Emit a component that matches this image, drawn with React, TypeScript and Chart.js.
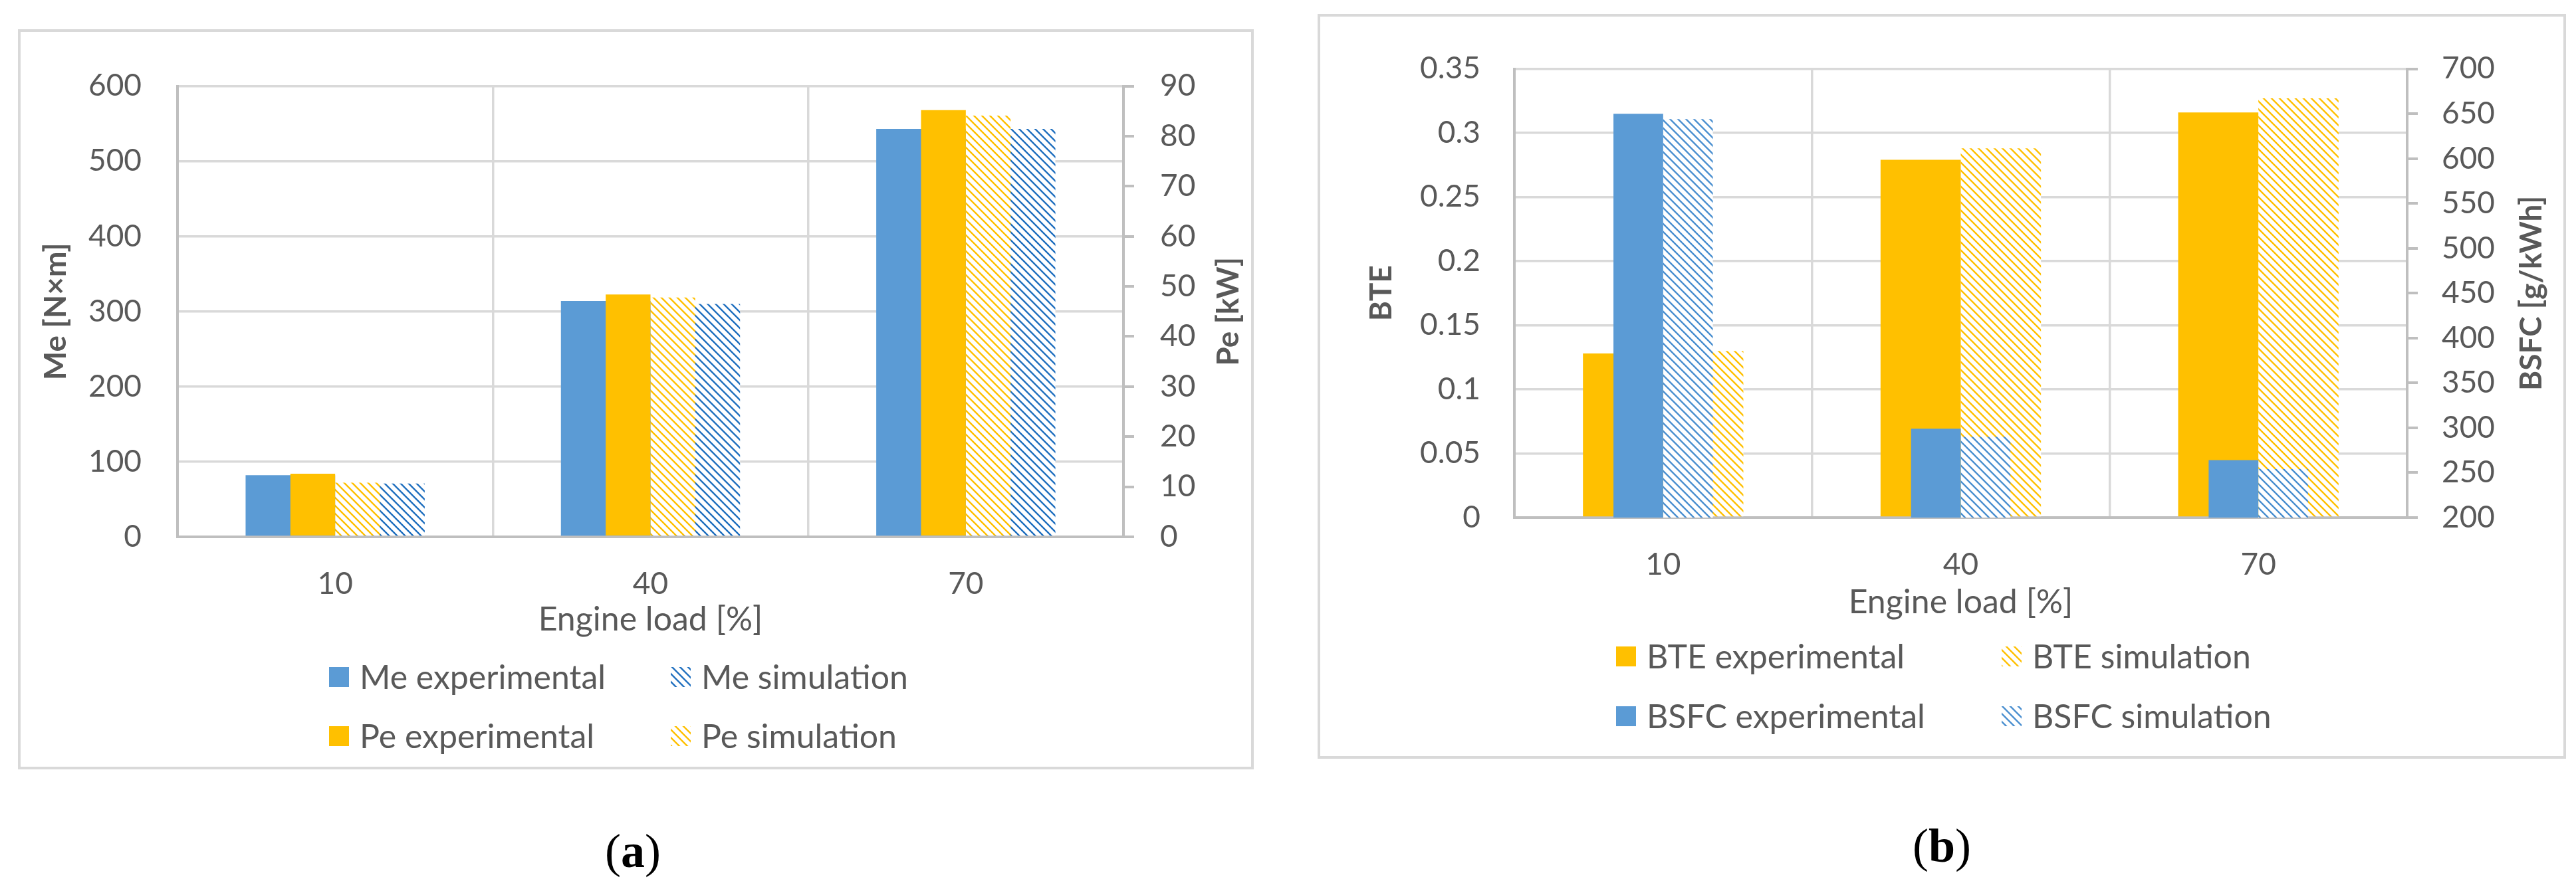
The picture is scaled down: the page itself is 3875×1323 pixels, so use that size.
import { useEffect, useRef } from "react"
import { Chart, registerables } from "chart.js"

Chart.register(...registerables)

const loads = ["10", "40", "70"]

// (a) torque [N×m] on the left axis, power [kW] on the right axis
const meExperimental = [82, 314, 543]
const meSimulation = [71, 310, 543]
const peExperimental = [12.6, 48.4, 85.2]
const peSimulation = [10.8, 47.8, 84.1]

// (b) BTE on the left axis, BSFC [g/kWh] on the right axis
const bteExperimental = [0.128, 0.279, 0.316]
const bteSimulation = [0.13, 0.288, 0.327]
const bsfcExperimental = [650, 299, 264]
const bsfcSimulation = [644, 290, 254]

const BLUE = "#5B9BD5"
const GOLD = "#FFC000"
const TEXT = "#595959"
const GRID = "#D9D9D9"
const AXIS = "#BFBFBF"
const FONT = "Lato"

function hatch(color: string, size = 12, width = 2.4) {
  const tile = document.createElement("canvas")
  tile.width = size
  tile.height = size
  const c = tile.getContext("2d")!
  c.fillStyle = "#ffffff"
  c.fillRect(0, 0, size, size)
  c.strokeStyle = color
  c.lineWidth = width
  c.beginPath()
  for (const off of [-size, 0, size]) {
    c.moveTo(off - 1, -1)
    c.lineTo(off + size + 1, size + 1)
  }
  c.stroke()
  return c.createPattern(tile, "repeat")!
}

// right axis title (reads bottom to top) and the 2×2 legend
const extrasPlugin = {
  id: "extras",
  afterDraw(chart: any, _args: any, opts: any) {
    const { ctx, chartArea } = chart
    ctx.save()
    ctx.font = `bold 46px ${FONT}`
    ctx.fillStyle = TEXT
    ctx.textAlign = "center"
    ctx.textBaseline = "middle"
    ctx.translate(opts.rightTitleX, (chartArea.top + chartArea.bottom) / 2)
    ctx.rotate(-Math.PI / 2)
    ctx.fillText(opts.rightTitle, 0, 0)
    ctx.restore()

    ctx.save()
    ctx.font = `50px ${FONT}`
    ctx.textAlign = "left"
    ctx.textBaseline = "middle"
    opts.legendOrder.forEach((di: number, i: number) => {
      const ds = chart.data.datasets[di]
      const x = opts.legendX[i % 2]
      const y = opts.legendY[Math.floor(i / 2)]
      ctx.fillStyle = ds.backgroundColor
      ctx.fillRect(x, y - 15, 30, 30)
      ctx.fillStyle = TEXT
      ctx.fillText(ds.label, x + 46, y + 2)
    })
    ctx.restore()
  },
}

interface Series {
  label: string
  data: number[]
  color: string
  hatched?: boolean
  secondary?: boolean
  side: number // -1 left of the category centre, 1 right of it
}

interface AxisSpec {
  min: number
  max: number
  step: number
  width: number
  pad: number
}

interface PanelProps {
  box: { left: number; top: number; width: number; height: number }
  series: Series[] // in slot order, the later ones sit under the earlier ones
  legendOrder: number[]
  leftTitle: string
  leftTitlePad: number
  rightTitle: string
  rightTitleX: number
  left: AxisSpec
  right: AxisSpec
  areaTop: number
  bottomPad: number
  xTitlePad: number
  primaryBar: number // bar width as a share of the category
  secondaryBar: number
  legendX: number[]
  legendY: number[]
}

const fmt = (v: any) => String(Number(Number(v).toFixed(2)))

function LoadChart(p: PanelProps) {
  const chartRef = useRef<HTMLCanvasElement | null>(null)
  const chartInstance = useRef<Chart | null>(null)

  useEffect(() => {
    if (!chartRef.current) return
    if (chartInstance.current) chartInstance.current.destroy()

    // Excel draws the secondary-axis pair over the primary pair; with one group of
    // four slots, each bar gets its own category/bar percentage to land there
    const n = p.series.length
    const datasets = p.series.map((s, j) => {
      const w = s.secondary ? p.secondaryBar : p.primaryBar
      const f = (j + 0.5) / n - 0.5
      const cp = (s.side * w) / 2 / f
      return {
        label: s.label,
        data: s.data,
        backgroundColor: s.hatched ? hatch(s.color) : s.color,
        borderWidth: 0,
        categoryPercentage: cp,
        barPercentage: (n * w) / cp,
        yAxisID: s.secondary ? "y2" : "y",
        order: j + 1,
      }
    })

    const tickFont = { family: FONT, size: 46 }

    chartInstance.current = new Chart(chartRef.current, {
      type: "bar",
      data: { labels: loads, datasets },
      plugins: [extrasPlugin],
      options: {
        responsive: false,
        animation: false,
        devicePixelRatio: 1,
        layout: { padding: { top: p.areaTop, bottom: p.bottomPad, left: 0, right: 0 } },
        plugins: {
          legend: { display: false },
          tooltip: { enabled: false },
          extras: {
            rightTitle: p.rightTitle,
            rightTitleX: p.rightTitleX,
            legendOrder: p.legendOrder,
            legendX: p.legendX,
            legendY: p.legendY,
          },
        } as any,
        scales: {
          x: {
            offset: true,
            grid: { color: GRID, lineWidth: 3.5, drawTicks: false, offset: true },
            border: { color: AXIS, width: 4 },
            ticks: { color: TEXT, font: tickFont, padding: 44 },
            title: {
              display: true,
              text: "Engine load [%]",
              color: TEXT,
              font: { family: FONT, size: 50 },
              padding: { top: 0, bottom: p.xTitlePad },
            },
            afterFit: (s: any) => {
              s.height = 160
            },
          },
          y: {
            position: "left",
            min: p.left.min,
            max: p.left.max,
            grid: { color: GRID, lineWidth: 3.5, drawTicks: false },
            border: { color: AXIS, width: 4 },
            ticks: { stepSize: p.left.step, color: TEXT, font: tickFont, padding: p.left.pad, callback: fmt },
            title: {
              display: true,
              text: p.leftTitle,
              color: TEXT,
              font: { family: FONT, size: 46, weight: "bold" },
              padding: { top: p.leftTitlePad, bottom: 0 },
            },
            afterFit: (s: any) => {
              s.width = p.left.width
            },
          },
          y2: {
            position: "right",
            min: p.right.min,
            max: p.right.max,
            grid: { drawOnChartArea: false, drawTicks: true, tickLength: 16, color: AXIS, lineWidth: 4 },
            border: { color: AXIS, width: 4 },
            ticks: { stepSize: p.right.step, color: TEXT, font: tickFont, padding: p.right.pad, callback: fmt },
            afterFit: (s: any) => {
              s.width = p.right.width
            },
          },
        } as any,
      },
    })

    return () => {
      if (chartInstance.current) {
        chartInstance.current.destroy()
        chartInstance.current = null
      }
    }
  }, [])

  return (
    <div
      style={{
        position: "absolute",
        left: p.box.left,
        top: p.box.top,
        width: p.box.width,
        height: p.box.height,
        border: `4px solid ${GRID}`,
        boxSizing: "border-box",
        background: "#ffffff",
      }}
    >
      <canvas ref={chartRef} width={p.box.width - 8} height={p.box.height - 8} style={{ display: "block" }} />
    </div>
  )
}

function Caption({ x, y, letter }: { x: number; y: number; letter: string }) {
  return (
    <div
      style={{
        position: "absolute",
        left: x,
        top: y,
        transform: "translate(-50%, -50%)",
        fontFamily: "'Liberation Serif', 'DejaVu Serif', serif",
        fontSize: 72,
        lineHeight: 1,
        color: "#000000",
        whiteSpace: "nowrap",
      }}
    >
      (<b>{letter}</b>)
    </div>
  )
}

export default function App() {
  return (
    <div style={{ position: "absolute", left: 0, top: 0, width: 3875, height: 1323, background: "#ffffff", overflow: "hidden" }}>
      <LoadChart
        box={{ left: 27, top: 44, width: 1859, height: 1114 }}
        series={[
          { label: "Pe experimental", data: peExperimental, color: GOLD, secondary: true, side: -1 },
          { label: "Me experimental", data: meExperimental, color: BLUE, side: -1 },
          { label: "Pe simulation", data: peSimulation, color: GOLD, hatched: true, secondary: true, side: 1 },
          { label: "Me simulation", data: meSimulation, color: "#1F6FBF", hatched: true, side: 1 },
        ]}
        legendOrder={[1, 3, 0, 2]}
        leftTitle="Me [N×m]"
        leftTitlePad={26}
        rightTitle="Pe [kW]"
        rightTitleX={1817}
        left={{ min: 0, max: 600, step: 100, width: 236, pad: 54 }}
        right={{ min: 0, max: 90, step: 10, width: 192, pad: 39 }}
        areaTop={62}
        bottomPad={186}
        xTitlePad={5}
        primaryBar={0.284}
        secondaryBar={0.142}
        legendX={[464, 978]}
        legendY={[971, 1060]}
      />
      <LoadChart
        box={{ left: 1982, top: 21, width: 1878, height: 1121 }}
        series={[
          { label: "BSFC experimental", data: bsfcExperimental, color: BLUE, secondary: true, side: -1 },
          { label: "BTE experimental", data: bteExperimental, color: GOLD, side: -1 },
          { label: "BSFC simulation", data: bsfcSimulation, color: "#4A8FD0", hatched: true, secondary: true, side: 1 },
          { label: "BTE simulation", data: bteSimulation, color: GOLD, hatched: true, side: 1 },
        ]}
        legendOrder={[1, 3, 0, 2]}
        leftTitle="BTE"
        leftTitlePad={65}
        rightTitle="BSFC [g/kWh]"
        rightTitleX={1822}
        left={{ min: 0, max: 0.35, step: 0.05, width: 292, pad: 51 }}
        right={{ min: 200, max: 700, step: 50, width: 235, pad: 36 }}
        areaTop={77}
        bottomPad={199}
        xTitlePad={2}
        primaryBar={0.2695}
        secondaryBar={0.167}
        legendX={[445, 1025]}
        legendY={[963, 1053]}
      />
      <Caption x={952} y={1281} letter="a" />
      <Caption x={2921} y={1273} letter="b" />
    </div>
  )
}
